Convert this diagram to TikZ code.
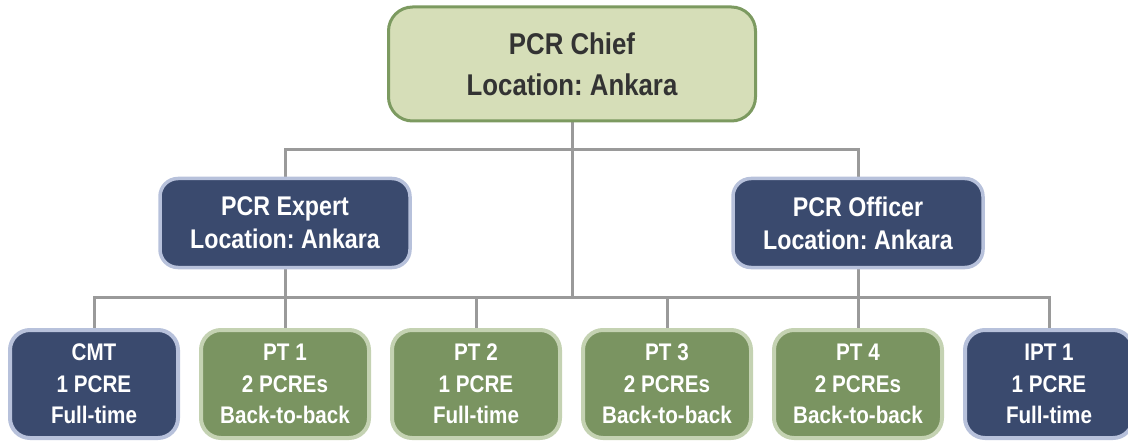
\documentclass[tikz,border=0pt]{standalone}
\usepackage{fontspec}
\setmainfont{Liberation Sans}[FakeStretch=0.86]
\usetikzlibrary{backgrounds}
\frenchspacing
\definecolor{chieffill}{HTML}{D6DEB8}
\definecolor{chiefdraw}{HTML}{7C9A60}
\definecolor{navyfill}{HTML}{3A4A6E}
\definecolor{navydraw}{HTML}{B7C1DB}
\definecolor{greenfill}{HTML}{7A9461}
\definecolor{greendraw}{HTML}{C4D2B2}
\definecolor{conncol}{HTML}{9A9A9A}
\definecolor{darktext}{HTML}{333333}
\tikzset{
  chiefbox/.style={draw=chiefdraw, fill=chieffill, line width=3pt, rounded corners=24pt,
    minimum width=367pt, minimum height=114pt, align=center, text=darktext,
    font=\fontsize{30}{41}\selectfont\bfseries, inner sep=0pt},
  midbox/.style={draw=navydraw, fill=navyfill, line width=3.5pt, rounded corners=18pt,
    minimum width=250pt, minimum height=89pt, align=center, text=white,
    font=\fontsize{27}{33}\selectfont\bfseries, inner sep=0pt},
  leafbox/.style={line width=4pt, rounded corners=20pt,
    minimum width=168pt, minimum height=108pt, align=center, text=white,
    font=\fontsize{24}{31.5}\selectfont\bfseries, inner sep=0pt},
  navyleaf/.style={leafbox, draw=navydraw, fill=navyfill},
  greenleaf/.style={leafbox, draw=greendraw, fill=greenfill},
  conn/.style={draw=conncol, line width=3pt},
}
\begin{document}
\begin{tikzpicture}[x=1pt,y=-1pt]
\useasboundingbox (0,0) rectangle (1128,441);
\node[chiefbox] (chief) at (572,64) {PCR Chief\\Location: Ankara};
\node[midbox] (expert) at (285,223) {PCR Expert\\Location: Ankara};
\node[midbox] (officer) at (858,223) {PCR Officer\\Location: Ankara};
\node[navyleaf] (cmt) at (94,384) {CMT\\1 PCRE\\Full-time};
\node[greenleaf] (pt1) at (285,384) {PT 1\\2 PCREs\\Back-to-back};
\node[greenleaf] (pt2) at (476,384) {PT 2\\1 PCRE\\Full-time};
\node[greenleaf] (pt3) at (667,384) {PT 3\\2 PCREs\\Back-to-back};
\node[greenleaf] (pt4) at (858,384) {PT 4\\2 PCREs\\Back-to-back};
\node[navyleaf] (ipt) at (1049,384) {IPT 1\\1 PCRE\\Full-time};
\coordinate (busa) at (572,150);
\coordinate (busb) at (572,297);
\begin{scope}[on background layer]
\draw[conn] (chief.south) -- (busb);
\draw[conn] (expert.north) -- (expert.north |- busa) -- (officer.north |- busa) -- (officer.north);
\draw[conn] (expert.south) -- (expert.south |- busb);
\draw[conn] (officer.south) -- (officer.south |- busb);
\draw[conn] (cmt.north) -- (cmt.north |- busb) -- (ipt.north |- busb) -- (ipt.north);
\draw[conn] (pt1.north) -- (pt1.north |- busb);
\draw[conn] (pt2.north) -- (pt2.north |- busb);
\draw[conn] (pt3.north) -- (pt3.north |- busb);
\draw[conn] (pt4.north) -- (pt4.north |- busb);
\end{scope}
\end{tikzpicture}
\end{document}
